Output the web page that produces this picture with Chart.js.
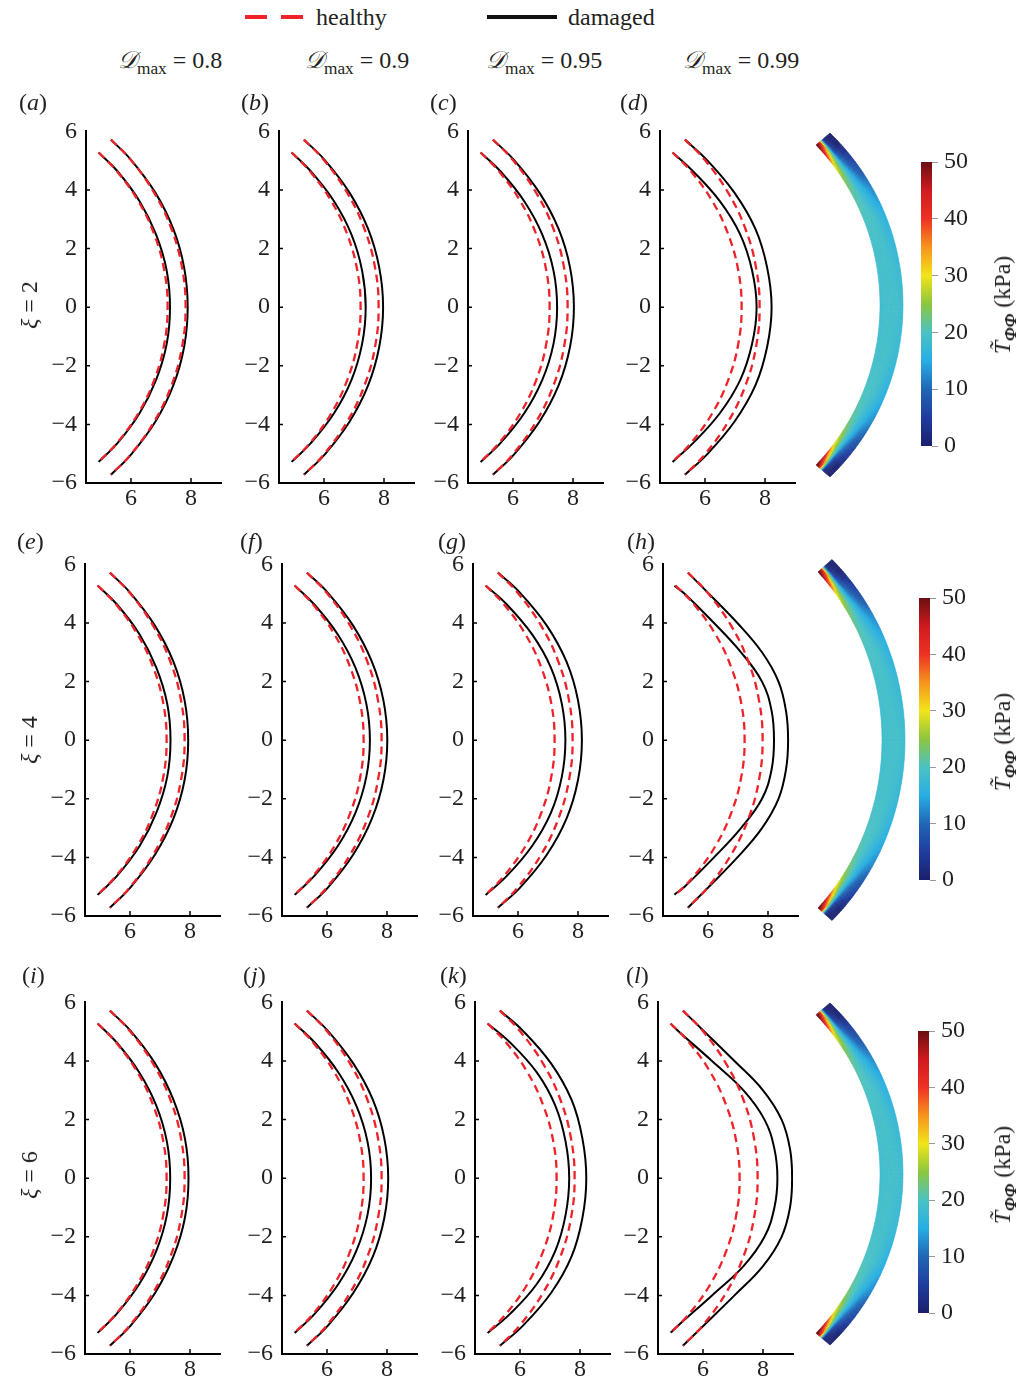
<!DOCTYPE html>
<html><head><meta charset="utf-8">
<script src="https://cdn.jsdelivr.net/npm/chart.js@4.4.1/dist/chart.umd.min.js"></script>
<style>
body{margin:0;width:1019px;height:1385px;position:relative;background:#fff;font-family:'Liberation Serif','Times New Roman',serif;color:#231f20;overflow:hidden}
.t{position:absolute;font-size:24px;line-height:1;white-space:nowrap;transform:translateY(-50%)}
.r{position:absolute;font-size:24px;line-height:1;white-space:nowrap;transform:translate(-50%,-50%) rotate(-90deg)}
sub{font-size:0.72em;vertical-align:-0.35em;line-height:0}
</style></head><body>
<script>
// ---------------- data ----------------
const xTickValues = [6, 8];
const yTickValues = [-6, -4, -2, 0, 2, 4, 6];
const columnTitles = ['0.8', '0.9', '0.95', '0.99'];
const rowXi = ['2', '4', '6'];
const panelLetters = ['a','b','c','d','e','f','g','h','i','j','k','l'];
const colorbarTicks = [0, 10, 20, 30, 40, 50];

// healthy configuration (same in every panel)
const yIn  = [5.28, 4.64, 3.61, 2.47, 1.25, 0, -1.25, -2.47, -3.61, -4.64, -5.28];
const yOut = [5.72, 5.03, 3.91, 2.67, 1.36, 0, -1.36, -2.67, -3.91, -5.03, -5.72];
const healthyInX  = [4.92, 5.53, 6.25, 6.78, 7.11, 7.22, 7.11, 6.78, 6.25, 5.53, 4.92];
const healthyOutX = [5.33, 5.99, 6.77, 7.35, 7.70, 7.82, 7.70, 7.35, 6.77, 5.99, 5.33];

// damaged configurations
const damagedInX_a  = [4.92, 5.55, 6.29, 6.84, 7.19, 7.30, 7.19, 6.84, 6.29, 5.55, 4.92];
const damagedOutX_a = [5.33, 6.00, 6.81, 7.41, 7.77, 7.89, 7.77, 7.41, 6.81, 6.00, 5.33];
const damagedInX_b  = [4.92, 5.56, 6.34, 6.92, 7.27, 7.39, 7.27, 6.92, 6.34, 5.56, 4.92];
const damagedOutX_b = [5.33, 6.02, 6.85, 7.47, 7.84, 7.97, 7.84, 7.47, 6.85, 6.02, 5.33];
const damagedInX_c  = [4.92, 5.58, 6.38, 6.98, 7.35, 7.47, 7.35, 6.98, 6.38, 5.58, 4.92];
const damagedOutX_c = [5.33, 6.03, 6.88, 7.52, 7.90, 8.03, 7.90, 7.52, 6.88, 6.03, 5.33];
const damagedInX_d  = [4.92, 5.60, 6.50, 7.18, 7.57, 7.72, 7.57, 7.18, 6.50, 5.60, 4.92];
const damagedOutX_d = [5.33, 6.06, 6.98, 7.68, 8.07, 8.22, 8.07, 7.68, 6.98, 6.06, 5.33];
const damagedInX_e  = [4.92, 5.56, 6.32, 6.88, 7.24, 7.35, 7.24, 6.88, 6.32, 5.56, 4.92];
const damagedOutX_e = [5.33, 6.01, 6.83, 7.45, 7.82, 7.94, 7.82, 7.45, 6.83, 6.01, 5.33];
const damagedInX_f  = [4.92, 5.57, 6.36, 6.95, 7.31, 7.43, 7.31, 6.95, 6.36, 5.57, 4.92];
const damagedOutX_f = [5.33, 6.03, 6.87, 7.50, 7.88, 8.01, 7.88, 7.50, 6.87, 6.03, 5.33];
const damagedInX_g  = [4.92, 5.62, 6.47, 7.10, 7.46, 7.58, 7.46, 7.10, 6.47, 5.62, 4.92];
const damagedOutX_g = [5.33, 6.07, 6.96, 7.62, 8.00, 8.13, 8.00, 7.62, 6.96, 6.07, 5.33];
const damagedInX_i  = [4.92, 5.55, 6.31, 6.88, 7.23, 7.34, 7.23, 6.88, 6.31, 5.55, 4.92];
const damagedOutX_i = [5.33, 6.02, 6.84, 7.45, 7.83, 7.95, 7.83, 7.45, 6.84, 6.02, 5.33];
const damagedInX_j  = [4.92, 5.58, 6.38, 6.98, 7.35, 7.47, 7.35, 6.98, 6.38, 5.58, 4.92];
const damagedOutX_j = [5.33, 6.03, 6.88, 7.53, 7.91, 8.04, 7.91, 7.53, 6.88, 6.03, 5.33];
const damagedInX_k  = [4.92, 5.66, 6.56, 7.18, 7.52, 7.64, 7.52, 7.18, 6.56, 5.66, 4.92];
const damagedOutX_k = [5.33, 6.10, 7.04, 7.72, 8.08, 8.21, 8.08, 7.72, 7.04, 6.10, 5.33];

const ySteepIn  = [5.27, 5, 4, 3, 2, 1, 0, -1, -2, -3, -4, -5, -5.27];
const ySteepOut = [5.72, 5, 4, 3, 2, 1, 0, -1, -2, -3, -4, -5, -5.72];
const damagedInX_h  = [4.88, 5.22, 6.20, 7.10, 7.80, 8.12, 8.20, 8.12, 7.80, 7.10, 6.20, 5.22, 4.88];
const damagedOutX_h = [5.33, 6.03, 6.98, 7.80, 8.35, 8.60, 8.67, 8.60, 8.35, 7.80, 6.98, 6.03, 5.33];
const damagedInX_l  = [4.92, 5.20, 6.30, 7.35, 8.05, 8.38, 8.48, 8.38, 8.05, 7.35, 6.30, 5.20, 4.92];
const damagedOutX_l = [5.33, 6.05, 7.05, 8.00, 8.62, 8.90, 8.97, 8.90, 8.62, 8.00, 7.05, 6.05, 5.33];

// stress field along the arc inset (kPa); position = |t| from mid (0) to end (1)
const arcPosition = [0, 0.3, 0.5, 0.65, 0.75, 0.85, 0.92, 1];
const arcLayerS   = [0, 0.25, 0.5, 0.75, 1];
const stressInnerEdge = [18, 19, 20, 22, 25, 32, 45, 55];
const stressInnerMid  = [19, 19, 20, 20, 21, 22, 28, 45];
const stressCentre    = [19, 19, 19, 17, 15, 11, 6, 2];
const stressOuterMid  = [19, 18, 17, 14, 10, 6, 2, 0];
const stressOuterEdge = [18, 17, 15, 12, 8, 4, 1, 0];

// ---------------- layout / style ----------------
const FONT = "'Liberation Serif','Times New Roman',serif";
const TXT = '#231f20';
const panelAxisX = [[86, 279, 468, 660], [85, 282, 473, 663], [85, 282, 475, 658]];
const rowTop6 = [131, 564, 1002];
const PH = 352, PW = 135;
const colorbarGeom = [{left:921, y50:162, y0:446}, {left:919, y50:598, y0:880}, {left:918, y50:1031, y0:1313}];
const arcGeom = [{yc:305, dx:0, sy:1}, {yc:740, dx:2, sy:1.05}, {yc:1174, dx:0, sy:0.995}];
const colormapStops = [[0,'#1b1f6b'],[0.1,'#1f3d9e'],[0.2,'#2166b4'],[0.3,'#27aee3'],[0.4,'#4bc2c4'],[0.5,'#8cc63f'],[0.6,'#f2e41a'],[0.7,'#f7941d'],[0.8,'#ee3124'],[0.9,'#d01a1f'],[1.0,'#6a0f10']];

const damagedSeries = {
  a:[damagedInX_a,yIn,damagedOutX_a,yOut], b:[damagedInX_b,yIn,damagedOutX_b,yOut],
  c:[damagedInX_c,yIn,damagedOutX_c,yOut], d:[damagedInX_d,yIn,damagedOutX_d,yOut],
  e:[damagedInX_e,yIn,damagedOutX_e,yOut], f:[damagedInX_f,yIn,damagedOutX_f,yOut],
  g:[damagedInX_g,yIn,damagedOutX_g,yOut], h:[damagedInX_h,ySteepIn,damagedOutX_h,ySteepOut],
  i:[damagedInX_i,yIn,damagedOutX_i,yOut], j:[damagedInX_j,yIn,damagedOutX_j,yOut],
  k:[damagedInX_k,yIn,damagedOutX_k,yOut], l:[damagedInX_l,ySteepIn,damagedOutX_l,ySteepOut]
};
const stressTable = [stressInnerEdge, stressInnerMid, stressCentre, stressOuterMid, stressOuterEdge];

function txt(html, x, y, cls){ const d=document.createElement('div'); d.className=cls||'t'; d.style.left=x+'px'; d.style.top=y+'px'; d.innerHTML=html; document.body.appendChild(d); return d; }
function rect(x,y,w,h,c){ const d=document.createElement('div'); d.style.cssText=`position:absolute;left:${x}px;top:${y}px;width:${w}px;height:${h}px;background:${c}`; document.body.appendChild(d); }
const fmt = v => (v < 0 ? '\u2212' : '') + Math.abs(v);

function toPts(xs, ys){ return xs.map((x,i)=>({x:x, y:ys[i]})); }
function ds(xs, ys, healthy){
  return healthy
    ? {data:toPts(xs,ys), showLine:true, borderColor:'#ee2229', borderWidth:2.3, borderDash:[8,5], pointRadius:0, tension:0.4, fill:false}
    : {data:toPts(xs,ys), showLine:true, borderColor:'#000', borderWidth:2, pointRadius:0, tension:0.4, fill:false};
}
const innerTicks = {id:'innerTicks', afterDraw(chart){
  const {ctx, chartArea:a} = chart; const x=chart.scales.x, y=chart.scales.y;
  ctx.save(); ctx.strokeStyle='#000'; ctx.lineWidth=1.5; ctx.beginPath();
  xTickValues.forEach(v=>{const p=x.getPixelForValue(v); ctx.moveTo(p,a.bottom); ctx.lineTo(p,a.bottom-5);});
  yTickValues.slice(1,-1).forEach(v=>{const p=y.getPixelForValue(v); ctx.moveTo(a.left,p); ctx.lineTo(a.left+4,p);});
  ctx.stroke(); ctx.restore(); }};

// place a chart so its chart area lands on given page coordinates and has given height
function fitChart(ch, cv, pageLeft, pageTop, areaH){
  let a = ch.chartArea;
  const dh = areaH - (a.bottom - a.top);
  if (Math.abs(dh) > 0.25) { ch.resize(cv.width, Math.round(cv.height + dh)); a = ch.chartArea; }
  cv.style.left = (pageLeft - a.left) + 'px';
  cv.style.top = (pageTop - a.top) + 'px';
  return {left: pageLeft - a.left, top: pageTop - a.top};
}

function makePanel(idx){
  const row=Math.floor(idx/4), col=idx%4;
  const ax=panelAxisX[row][col], ty=rowTop6[row];
  const cv=document.createElement('canvas');
  cv.width=190; cv.height=12+PH+36;
  cv.style.cssText=`position:absolute;left:${ax-50}px;top:${ty-12}px;width:190px;height:${12+PH+36}px`;
  document.body.appendChild(cv);
  const d=damagedSeries[panelLetters[idx]];
  const tickFont={family:FONT, size:24};
  const ch = new Chart(cv,{type:'scatter',
    data:{datasets:[ds(healthyInX,yIn,true), ds(healthyOutX,yOut,true), ds(d[0],d[1],false), ds(d[2],d[3],false)]},
    options:{responsive:false, maintainAspectRatio:false, animation:false, devicePixelRatio:1,
      layout:{padding:{left:0,right:5,top:12,bottom:0}},
      plugins:{legend:{display:false}, tooltip:{enabled:false}},
      scales:{
        x:{type:'linear', min:4.5, max:9, afterFit(s){s.height=36;}, afterBuildTicks(s){s.ticks=xTickValues.map(v=>({value:v}));},
           grid:{display:true, drawOnChartArea:false, drawTicks:false}, border:{display:true,color:'#000',width:2},
           ticks:{font:tickFont, color:TXT, padding:1, maxRotation:0, autoSkip:false, callback:fmt}},
        y:{type:'linear', min:-6, max:6, afterFit(s){s.width=50;}, afterBuildTicks(s){s.ticks=yTickValues.map(v=>({value:v}));},
           grid:{display:true, drawOnChartArea:false, drawTicks:false}, border:{display:true,color:'#000',width:2},
           ticks:{font:tickFont, color:TXT, padding:9, autoSkip:false, callback:fmt}}
      }},
    plugins:[innerTicks]});
  fitChart(ch, cv, ax, ty, PH);
}

function hexRgb(h){ return [parseInt(h.slice(1,3),16),parseInt(h.slice(3,5),16),parseInt(h.slice(5,7),16)]; }
function colorAt(v){
  let f=Math.max(0,Math.min(1,v/50));
  for(let i=1;i<colormapStops.length;i++){
    if(f<=colormapStops[i][0]){ const [f0,c0]=colormapStops[i-1],[f1,c1]=colormapStops[i]; const u=(f-f0)/(f1-f0);
      const a=hexRgb(c0), b=hexRgb(c1); return `rgb(${a.map((q,k)=>Math.round(q+(b[k]-q)*u)).join(',')})`; }
  }
  return colormapStops[colormapStops.length-1][1];
}
function interp1(xs, ys, x){ for(let i=1;i<xs.length;i++){ if(x<=xs[i]){const u=(x-xs[i-1])/(xs[i]-xs[i-1]); return ys[i-1]+(ys[i]-ys[i-1])*u;} } return ys[ys.length-1]; }
function stressAt(tAbs, s){
  const layerVals = stressTable.map(arr=>interp1(arcPosition, arr, tAbs));
  return interp1(arcLayerS, layerVals, s);
}

function makeColorbar(row){
  const g=colorbarGeom[row], ag=arcGeom[row];
  const W=219, H=(g.y0-g.y50)+96;
  const off={left:800, top:g.y50-48};
  const cv=document.createElement('canvas'); cv.width=W; cv.height=H;
  cv.style.cssText=`position:absolute;left:${off.left}px;top:${off.top}px;width:${W}px;height:${H}px`;
  document.body.appendChild(cv);
  const barPlugin={id:'bar', beforeDatasetsDraw(chart){
    const {ctx, chartArea:a}=chart; const ys=chart.scales.y;
    const grad=ctx.createLinearGradient(0,ys.getPixelForValue(0),0,ys.getPixelForValue(50));
    colormapStops.forEach(([f,c])=>grad.addColorStop(f,c));
    ctx.save(); ctx.fillStyle=grad; ctx.fillRect(a.left,a.top,a.right-a.left,a.bottom-a.top);
    // arc inset (stress field)
    const N=140, M=14, ti=43.6*Math.PI/180, to=46*Math.PI/180;
    const pt=(t,s)=>{ const xi=648+ag.dx+232*Math.cos(t*ti), yi=-232*Math.sin(t*ti);
      const xo=664+ag.dx+239*Math.cos(t*to), yo=-239*Math.sin(t*to);
      return [xi+(xo-xi)*s-off.left, ag.yc+(yi+(yo-yi)*s)*ag.sy-off.top]; };
    for(let i=0;i<N;i++){ const t0=-1+2*i/N, t1=-1+2*(i+1)/N;
      for(let j=0;j<M;j++){ const s0=j/M, s1=(j+1)/M;
        const c=colorAt(stressAt(Math.abs((t0+t1)/2),(s0+s1)/2));
        const p=[pt(t0,s0),pt(t1,s0),pt(t1,s1),pt(t0,s1)];
        ctx.beginPath(); ctx.moveTo(p[0][0],p[0][1]); for(let k=1;k<4;k++) ctx.lineTo(p[k][0],p[k][1]); ctx.closePath();
        ctx.fillStyle=c; ctx.strokeStyle=c; ctx.lineWidth=0.6; ctx.fill(); ctx.stroke(); } }
    ctx.restore(); }};
  const ch = new Chart(cv,{type:'scatter', data:{datasets:[]},
    options:{responsive:false, maintainAspectRatio:false, animation:false, devicePixelRatio:1,
      layout:{padding:{left:g.left-off.left, right:0, top:48, bottom:48}},
      plugins:{legend:{display:false}, tooltip:{enabled:false}},
      scales:{
        x:{display:false, min:0, max:1},
        y:{position:'right', min:0, max:50, afterFit(s){s.width=W-(g.left-off.left)-11;},
           afterBuildTicks(s){s.ticks=colorbarTicks.map(v=>({value:v}));},
           grid:{display:true, drawOnChartArea:false, drawTicks:true, tickLength:6, color:'#999', lineWidth:1},
           border:{display:false},
           ticks:{font:{family:FONT,size:24}, color:TXT, padding:6, autoSkip:false}}
      }},
    plugins:[barPlugin]});
  const p = fitChart(ch, cv, g.left, g.y50, g.y0-g.y50);
  off.left = p.left; off.top = p.top;
  ch.draw();
}

// ---------------- build ----------------
for(let i=0;i<12;i++) makePanel(i);
for(let r=0;r<3;r++) makeColorbar(r);

// legend
rect(245,15,22,4,'#ee2229'); rect(281,15,22,4,'#ee2229');
txt('healthy',316,17);
rect(487,15,70,4,'#111');
txt('damaged',568,17);

// column headers
const headerX=[118,305,486,683];
columnTitles.forEach((v,i)=>txt('<span style="font-family:\'DejaVu Serif\',serif;font-style:italic">𝒟</span><sub>max</sub> = '+v, headerX[i], 60));

// panel letters
const letterPos=[[19,102],[241,102],[430,102],[620,102],[17,541],[240,541],[438,541],[627,541],[22,975],[243,975],[440,975],[626,975]];
panelLetters.forEach((L,i)=>txt('(<i>'+L+'</i>)', letterPos[i][0], letterPos[i][1]));

// row labels
const rowLabelY=[305,740,1175];
rowXi.forEach((v,i)=>txt('<i>ξ</i> = '+v, 29, rowLabelY[i], 'r'));

// colorbar titles
const cbTitleY=[305,742,1175];
cbTitleY.forEach(y=>txt('<i>T\u0303</i><sub><b><i>ΦΦ</i></b></sub> (kPa)', 1002, y, 'r'));
</script></body></html>
